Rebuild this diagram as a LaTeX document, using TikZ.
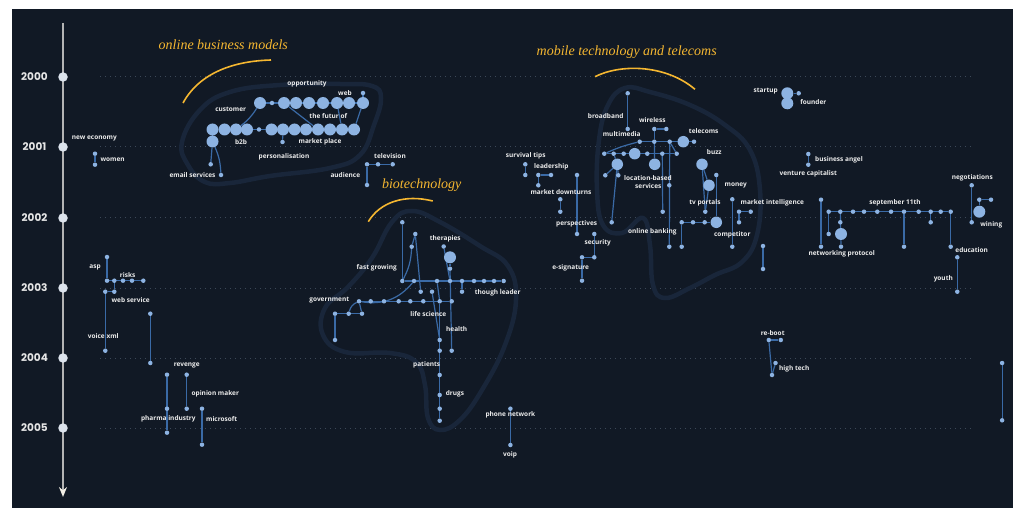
\documentclass[tikz,border=0pt]{standalone}
\usepackage{fontspec}
\newfontfamily\lblfont{Open Sans}
\newfontfamily\yearfont{Poppins}
\newfontfamily\topicfont{Liberation Serif}
\usetikzlibrary{arrows.meta}

\definecolor{bgnavy}{HTML}{111925}
\definecolor{hullblue}{HTML}{19263A}
\definecolor{gridgrey}{HTML}{3C4858}
\definecolor{axisgrey}{HTML}{B4B4B4}
\definecolor{arrowcream}{HTML}{F2EFE6}
\definecolor{yearfill}{HTML}{DCE3EC}
\definecolor{yeartext}{HTML}{E6E6E6}
\definecolor{edgeblue}{HTML}{3A6AA6}
\definecolor{nodeblue}{HTML}{8DB3E2}
\definecolor{labelwhite}{HTML}{ECECEC}
\definecolor{titleorange}{HTML}{F5B731}

\pgfdeclarelayer{bg}
\pgfdeclarelayer{links}
\pgfsetlayers{bg,links,main}

\begin{document}
\begin{tikzpicture}[x=1pt, y=-1pt,
    dot/.style={circle, fill=nodeblue, inner sep=0pt, minimum size=4.5pt},
    bigdot/.style={circle, fill=nodeblue, inner sep=0pt, minimum size=12pt},
    link/.style={draw=edgeblue, line width=1.2pt},
    lbl/.style={font=\lblfont\bfseries\fontsize{6.5}{7.5}\selectfont, text=labelwhite, inner sep=0pt},
    topic/.style={font=\topicfont\itshape\fontsize{14}{16}\selectfont, text=titleorange, inner sep=0pt},
    swoosh/.style={draw=titleorange, line width=1.6pt},
    hull/.style={draw=hullblue, line width=4.5pt},
    yearmark/.style={circle, fill=yearfill, inner sep=0pt, minimum size=9.5pt},
    yearlbl/.style={font=\yearfont\bfseries\fontsize{10.5}{12}\selectfont, text=yeartext, inner sep=0pt},
    guide/.style={draw=gridgrey, line width=1pt, dash pattern=on 1pt off 4pt}]

\useasboundingbox (0,0) rectangle (1013,508);

\begin{pgfonlayer}{bg}
  \fill[white] (0,0) rectangle (1013,508);
  \fill[bgnavy] (12,9.5) rectangle (1013,508);
  % year guides
  \foreach \yy in {77,147,218,288,358,428}
    \draw[guide] (100,\yy) -- (972,\yy);
  % cluster hulls
  \draw[hull] plot[smooth cycle, tension=0.7] coordinates {(182,142) (200,110) (230,92) (280,85) (340,84) (372,86) (381,98) (374,125) (360,155) (330,168) (270,176) (230,183) (205,182) (188,165)};
  \draw[hull] plot[smooth cycle, tension=0.7] coordinates {(412,211) (440,222) (480,246) (508,266) (516,300) (505,345) (482,390) (460,420) (440,430) (428,418) (425,385) (416,362) (390,353) (345,352) (323,335) (325,308) (348,287) (372,258) (392,222)};
  \draw[hull] plot[smooth cycle, tension=0.7] coordinates {(625,88) (650,92) (690,105) (725,125) (750,150) (760,190) (757,235) (742,262) (715,275) (690,288) (665,298) (653,285) (650,245) (643,218) (622,233) (603,225) (597,190) (599,140) (608,105)};
  % time axis
  \coordinate (axtop) at (63,23);
  \coordinate (axbot) at (63,497);
  \draw[axisgrey, line width=1.5pt, -{Stealth[length=10pt,width=8pt,color=arrowcream]}] (axtop) -- (axbot);
\end{pgfonlayer}

% years
\foreach \yy/\yr in {77/2000,147/2001,218/2002,288/2003,358/2004,428/2005} {
  \node[yearmark] (y\yr) at (63,\yy) {};
  \node[yearlbl] (l\yr) at (34.5,\yy) {\yr};
}

% topic titles
\node[topic] (toponline) at (223.3,45) {online business models};
\node[topic] (topbio) at (421.7,185) {biotechnology};
\node[topic] (topmobile) at (626.7,52.3) {mobile technology and telecoms};
\draw[swoosh] (183,103) .. controls (200,72) and (235,61) .. (271,60);
\draw[swoosh] (368.3,221.7) .. controls (380,202) and (405,194) .. (432.7,201);
\draw[swoosh] (595,76.7) .. controls (620,64) and (665,64) .. (695,89.3);

% online business models
\foreach \x/\s [count=\i] in {260/12,272/4.5,284/12,296/12,309/12,323/12,337/12,349/12,363/12}
  \node[dot, minimum size=\s pt] (obt\i) at (\x,103) {};
\foreach \x/\s [count=\i] in {212.5/12,224.5/12,236/12,247/12,259/4.5,271.5/12,283/12,294.5/12,306/12,318/12,330/12,342/12,354/12}
  \node[dot, minimum size=\s pt] (obb\i) at (\x,129.5) {};
\node[dot] (obw) at (363,93) {};
\node[bigdot] (obe) at (212.5,141.5) {};
\node[dot] (obm) at (282.5,142) {};
\node[dot] (obs1) at (210.7,164.3) {};
\node[dot] (obs2) at (221,175) {};
\node[dot] (tv1) at (367,164.3) {};
\node[dot] (tv2) at (378,164.3) {};
\node[dot] (tv3) at (392.7,164.3) {};
\node[dot] (tv4) at (367,185) {};

\node[lbl] (lopportunity) at (307,84.3) {opportunity};
\node[lbl] (lweb) at (345,93.3) {web};
\node[lbl] (lcustomer) at (230.7,109.7) {customer};
\node[lbl] (lfutur) at (328.3,116.3) {the futur of};
\node[lbl] (lb2b) at (241,141.7) {b2b};
\node[lbl] (lmarketplace) at (320,141.7) {market place};
\node[lbl] (lpersonal) at (284,156.7) {personalisation};
\node[lbl] (lemail) at (192.5,174.7) {email services};
\node[lbl] (laudience) at (345.3,174.7) {audience};
\node[lbl] (ltelevision) at (390,156.3) {television};

% left column
\node[dot] (wo1) at (95,153.7) {};
\node[dot] (wo2) at (95,164.7) {};
\node[dot] (as1) at (107,257) {};
\node[dot] (as2) at (107,280.7) {};
\foreach \x [count=\i] in {114.3,123,132,143.3}
  \node[dot] (rk\i) at (\x,280.7) {};
\node[dot] (ws1) at (114.3,291.7) {};
\node[dot] (ws2) at (105.3,291.7) {};
\node[dot] (vx) at (105.3,350.7) {};
\node[dot] (cl1) at (150.3,313.7) {};
\node[dot] (cl2) at (150.3,363) {};
\node[dot] (ph1) at (167,374.7) {};
\node[dot] (ph2) at (167,408.7) {};
\node[dot] (ph3) at (167,432.7) {};
\node[dot] (rv1) at (186.7,374.7) {};
\node[dot] (rv2) at (186.7,408.7) {};
\node[dot] (ms1) at (202,408.7) {};
\node[dot] (ms2) at (202,444.7) {};

\node[lbl] (lneweconomy) at (94.3,138) {new economy};
\node[lbl] (lwomen) at (112.7,159.7) {women};
\node[lbl] (lasp) at (95,267.7) {asp};
\node[lbl] (lrisks) at (127.7,274.7) {risks};
\node[lbl] (lwebservice) at (130.7,300) {web service};
\node[lbl] (lvoicexml) at (103.3,336) {voice xml};
\node[lbl] (lrevenge) at (186.7,365.3) {revenge};
\node[lbl] (lopinion) at (215.3,393.7) {opinion maker};
\node[lbl] (lpharma) at (168.3,419) {pharma industry};
\node[lbl] (lmicrosoft) at (221.7,419) {microsoft};

% biotechnology
\node[dot] (bta) at (402.3,222.3) {};
\node[dot] (btb) at (415.3,234) {};
\node[dot] (btc) at (411.7,246.7) {};
\node[dot] (btd) at (420.7,291.7) {};
\foreach \x [count=\i] in {402.3,414,437,450,462,474,484,494,503.7}
  \node[dot] (btr\i) at (\x,281) {};
\node[dot] (btth) at (443.7,246.5) {};
\node[bigdot] (btbig) at (450,257.3) {};
\node[dot] (btsm) at (450,268.7) {};
\node[dot] (bte) at (462,291.7) {};
\node[dot] (btf) at (432,291.7) {};
\foreach \x [count=\i] in {359,370.7,384,398.7,410.3,423.3,439.7,451.7}
  \node[dot] (bts\i) at (\x,301.3) {};
\foreach \x [count=\i] in {335,348.7,362}
  \node[dot] (btu\i) at (\x,313.7) {};
\node[dot] (btu4) at (335,340) {};
\foreach \y [count=\i] in {340,350.7,375,395,408.7,420.7}
  \node[dot] (btv\i) at (439.7,\y) {};
\node[dot] (bth) at (451.7,350.7) {};

\node[lbl] (ltherapies) at (445.3,238.7) {therapies};
\node[lbl] (lfastgrowing) at (376.7,267.7) {fast growing};
\node[lbl] (lthough) at (497.7,292.7) {though leader};
\node[lbl] (lgovernment) at (329.3,300.3) {government};
\node[lbl] (llifescience) at (428.3,314.3) {life science};
\node[lbl] (lhealth) at (456.7,329) {health};
\node[lbl] (lpatients) at (426.7,365) {patients};
\node[lbl] (ldrugs) at (455,394) {drugs};

% middle
\node[dot] (sv1) at (525.3,164.3) {};
\node[dot] (sv2) at (525.3,175) {};
\node[dot] (ld1) at (538.3,175) {};
\node[dot] (ld2) at (551,175) {};
\node[dot] (ld3) at (538.3,185.3) {};
\node[dot] (md1) at (560.3,199.3) {};
\node[dot] (md2) at (560.3,211.7) {};
\node[dot] (ps1) at (577,175) {};
\node[dot] (ps2) at (577,234) {};
\node[dot] (sc1) at (594.3,234) {};
\node[dot] (sc2) at (594.3,257.3) {};
\node[dot] (sc3) at (582,257.3) {};
\node[dot] (sc4) at (582,280.7) {};
\node[dot] (pn1) at (510.4,408.7) {};
\node[dot] (pn2) at (510.4,445) {};

\node[lbl] (lsurvival) at (525.7,156) {survival tips};
\node[lbl] (lleadership) at (551.3,166.7) {leadership};
\node[lbl] (ldownturns) at (561,192.3) {market downturns};
\node[lbl] (lperspectives) at (576.7,224.3) {perspectives};
\node[lbl] (lsecurity) at (597.7,242.7) {security};
\node[lbl] (lesignature) at (570.7,268) {e-signature};
\node[lbl] (lphone) at (510.4,415.3) {phone network};
\node[lbl] (lvoip) at (510,454.7) {voip};

% mobile technology and telecoms
\node[dot] (mtbb1) at (627.7,93.3) {};
\node[dot] (mtbb2) at (627.7,129) {};
\node[dot] (mtw1) at (654.3,129) {};
\node[dot] (mtw2) at (666.3,129) {};
\foreach \x/\s [count=\i] in {639.7/4.5,654.3/4.5,669.7/4.5,683.3/11.5,694/4.5}
  \node[dot, minimum size=\s pt] (mta\i) at (\x,141.7) {};
\foreach \x/\s [count=\i] in {604.3/4.5,613.7/4.5,623.7/4.5,634.7/11.5,647.3/4.5,662.3/4.5,676.7/4.5}
  \node[dot, minimum size=\s pt] (mtb\i) at (\x,153.7) {};
\node[bigdot, minimum size=11.5pt] (mtc1) at (617.3,164.3) {};
\node[bigdot, minimum size=11.5pt] (mtc2) at (654.7,164.3) {};
\node[bigdot, minimum size=11.5pt] (mtbuzz) at (702,164.3) {};
\node[bigdot, minimum size=11.5pt] (mttv) at (709,185.3) {};
\node[dot] (mtd1) at (605.3,175.3) {};
\node[dot] (mtd2) at (618.3,175.3) {};
\node[dot] (mtd3) at (611.7,222.3) {};
\node[dot] (mte1) at (669.3,185.3) {};
\node[dot] (mte2) at (669.3,246.7) {};
\node[dot] (mtf1) at (662.7,211.7) {};
\node[dot] (mtg) at (716.3,175) {};
\node[dot] (mth) at (705.3,211.7) {};
\foreach \x/\s [count=\i] in {681.7/4.5,693/4.5,704.7/4.5,716.3/11.5}
  \node[dot, minimum size=\s pt] (mtr\i) at (\x,222.3) {};
\node[dot] (mtr5) at (681.7,246.7) {};
\node[dot] (mtm1) at (732.3,199.3) {};
\node[dot] (mtm2) at (732.3,246.7) {};
\node[dot] (mi1) at (739,211.7) {};
\node[dot] (mi2) at (750.7,211.7) {};
\node[dot] (mi3) at (739,222.3) {};
\node[dot] (mx1) at (763,246) {};
\node[dot] (mx2) at (763,269) {};

\node[lbl] (lbroadband) at (605.7,116.3) {broadband};
\node[lbl] (lwireless) at (652.3,120.3) {wireless};
\node[lbl] (lmultimedia) at (621.7,134.3) {multimedia};
\node[lbl] (ltelecoms) at (703.7,131) {telecoms};
\node[lbl] (llocation) at (648,177.7) {location-based};
\node[lbl] (lservices) at (648.3,186.3) {services};
\node[lbl] (lbuzz) at (714.3,152.3) {buzz};
\node[lbl] (lmoney) at (735.7,185.3) {money};
\node[lbl] (ltvportals) at (705,203) {tv portals};
\node[lbl] (lmarketintel) at (772.3,203) {market intelligence};
\node[lbl] (lcompetitor) at (732.3,235.3) {competitor};
\node[lbl] (lbanking) at (652.3,232) {online banking};

% right side
\node[bigdot] (su1) at (787.3,93.3) {};
\node[bigdot] (su2) at (787.3,103.3) {};
\node[dot] (su3) at (798.7,93.3) {};
\node[dot] (ba1) at (808.3,154) {};
\node[dot] (ba2) at (808.3,164.7) {};
\node[dot] (nw1) at (821,199.7) {};
\node[dot] (nw2) at (821,246.7) {};
\foreach \x [count=\i] in {828.7,840.3,853,864,877.3,891,904,918.7,930.7,940.7,950.7}
  \node[dot] (s\i) at (\x,211.7) {};
\node[dot] (sa) at (828.7,234) {};
\node[dot] (sb) at (840.3,222.3) {};
\node[bigdot] (sbig) at (841,234) {};
\node[dot] (sc) at (841,246.7) {};
\node[dot] (sd) at (904,246.7) {};
\node[dot] (se) at (930.7,222.3) {};
\node[dot] (sf) at (950.7,246.7) {};
\node[dot] (ng1) at (971.7,185.3) {};
\node[dot] (ng2) at (971.7,222.3) {};
\node[dot] (wn1) at (979.3,199.7) {};
\node[dot] (wn2) at (991,199.7) {};
\node[bigdot] (wnbig) at (979.3,211.7) {};
\node[dot] (ed1) at (957.3,257.3) {};
\node[dot] (ed2) at (957.3,291.7) {};
\node[dot] (rb1) at (768.8,340) {};
\node[dot] (rb2) at (780.8,340) {};
\node[dot] (rb3) at (775.5,363) {};
\node[dot] (rb4) at (772,375) {};
\node[dot] (rl1) at (1002.1,363) {};
\node[dot] (rl2) at (1002.1,420.3) {};

\node[lbl] (lstartup) at (765.7,91.3) {startup};
\node[lbl] (lfounder) at (813.3,102.3) {founder};
\node[lbl] (langel) at (839,159.7) {business angel};
\node[lbl] (lventure) at (808.3,174.3) {venture capitalist};
\node[lbl] (lsept) at (895,203) {september 11th};
\node[lbl] (lnetworking) at (841.7,253.7) {networking protocol};
\node[lbl] (lnegotiations) at (972.3,178) {negotiations};
\node[lbl] (lwining) at (991.3,225) {wining};
\node[lbl] (leducation) at (971.7,250) {education};
\node[lbl] (lyouth) at (943.3,279) {youth};
\node[lbl] (lreboot) at (772.7,332.7) {re-boot};
\node[lbl] (lhightech) at (794.2,368.7) {high tech};

\begin{pgfonlayer}{links}
  % online business models
  \draw[link] (obt1) -- (obt9);
  \draw[link] (obb1) -- (obb13);
  \draw[link] (obb1) -- (obe);
  \draw[link] (obe) -- (obs1);
  \draw[link] (obe) to[bend left=10] (obs2);
  \draw[link] (obt1) to[bend left=10] (obb3);
  \draw[link] (obt3) -- (obb10);
  \draw[link] (obt7) -- (obb12);
  \draw[link] (obt9) -- (obb13);
  \draw[link] (obt9) -- (obw);
  \draw[link] (obb7) -- (obm);
  \draw[link] (tv1) -- (tv3);
  \draw[link] (tv1) -- (tv4);
  % left column
  \draw[link] (wo1) -- (wo2);
  \draw[link] (as1) -- (as2);
  \draw[link] (as2) -- (rk4);
  \draw[link] (rk1) -- (ws1);
  \draw[link] (ws2) -- (ws1);
  \draw[link] (ws2) -- (vx);
  \draw[link] (cl1) -- (cl2);
  \draw[link] (ph1) -- (ph3);
  \draw[link] (rv1) -- (rv2);
  \draw[link] (ms1) -- (ms2);
  % biotechnology
  \draw[link] (bta) -- (btr1);
  \draw[link] (btb) -- (btc);
  \draw[link] (btc) to[bend left=12] (btr1);
  \draw[link] (btb) -- (btd);
  \draw[link] (btr1) -- (btr9);
  \draw[link] (btr5) -- (bte);
  \draw[link] (btth) -- (btr4);
  \draw[link] (btbig) -- (btsm);
  \draw[link] (btsm) -- (bth);
  \draw[link] (btr3) -- (bts7);
  \draw[link] (btf) -- (btv1);
  \draw[link] (bts7) -- (btv6);
  \draw[link] (bts1) -- (bts8);
  \draw[link] (btr2) to[bend left=30] (bts1);
  \draw[link] (bts1) to[bend right=25] (btu2);
  \draw[link] (bts1) -- (btu3);
  \draw[link] (btu1) -- (btu3);
  \draw[link] (btu1) -- (btu4);
  % middle
  \draw[link] (sv1) -- (sv2);
  \draw[link] (ld1) -- (ld2);
  \draw[link] (ld1) -- (ld3);
  \draw[link] (md1) -- (md2);
  \draw[link] (ps1) -- (ps2);
  \draw[link] (sc1) -- (sc2);
  \draw[link] (sc2) -- (sc3);
  \draw[link] (sc3) -- (sc4);
  \draw[link] (pn1) -- (pn2);
  % mobile technology and telecoms
  \draw[link] (mtbb1) -- (mtbb2);
  \draw[link] (mtw1) -- (mtw2);
  \draw[link] (mtw1) -- (mta2);
  \draw[link] (mta1) -- (mta5);
  \draw[link] (mtb1) -- (mtb7);
  \draw[link] (mta1) to[bend right=5] (mtb1);
  \draw[link] (mta3) -- (mtb7);
  \draw[link] (mta3) -- (mte2);
  \draw[link] (mta2) -- (mtc2);
  \draw[link] (mtb6) -- (mtf1);
  \draw[link] (mtb2) -- (mtc1);
  \draw[link] (mtc1) -- (mtd2);
  \draw[link] (mtd1) -- (mtc1);
  \draw[link] (mtc1) -- (mtd3);
  \draw[link] (mtbuzz) -- (mth);
  \draw[link] (mtbuzz) -- (mttv);
  \draw[link] (mttv) -- (mth);
  \draw[link] (mtg) -- (mtr4);
  \draw[link] (mtr1) -- (mtr4);
  \draw[link] (mtr1) -- (mtr5);
  \draw[link] (mtm1) -- (mtm2);
  \draw[link] (mi1) -- (mi2);
  \draw[link] (mi1) -- (mi3);
  \draw[link] (mx1) -- (mx2);
  % right side
  \draw[link] (su1) -- (su3);
  \draw[link] (su1) -- (su2);
  \draw[link] (ba1) -- (ba2);
  \draw[link] (nw1) -- (nw2);
  \draw[link] (s1) -- (s11);
  \draw[link] (s1) -- (sa);
  \draw[link] (s2) -- (sc);
  \draw[link] (s7) -- (sd);
  \draw[link] (s9) -- (se);
  \draw[link] (s11) -- (sf);
  \draw[link] (ng1) -- (ng2);
  \draw[link] (wn1) -- (wn2);
  \draw[link] (wn1) -- (wnbig);
  \draw[link] (ed1) -- (ed2);
  \draw[link] (rb1) -- (rb2);
  \draw[link] (rb1) -- (rb4);
  \draw[link] (rb4) -- (rb3);
  \draw[link] (rl1) -- (rl2);
\end{pgfonlayer}

\end{tikzpicture}
\end{document}
